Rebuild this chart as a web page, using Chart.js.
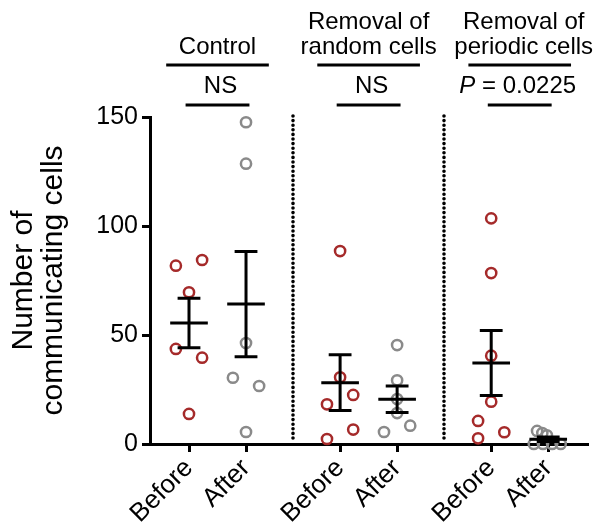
<!DOCTYPE html>
<html>
<head>
<meta charset="utf-8">
<script src="https://cdn.jsdelivr.net/npm/chart.js@4.4.0/dist/chart.umd.min.js"></script>
<style>
  html, body { margin: 0; padding: 0; background: #fff; }
  #wrap { width: 603px; height: 526px; }
</style>
</head>
<body>
<div id="wrap"><canvas id="cellChart" width="603" height="526"></canvas></div>
<script>
// Communicating cells before / after removal, three conditions
const groupNames = [["Control"], ["Removal of", "random cells"], ["Removal of", "periodic cells"]];
const stageLabels = ["Before", "After", "Before", "After", "Before", "After"];
const statLabels = ["NS", "NS", "P = 0.0225"];
const yTicks = [0, 50, 100, 150];

const controlBefore = [81.8, 84.4, 69.6, 43.6, 39.6, 13.8];
const controlAfter = [147.6, 128.6, 46.3, 30.4, 26.6, 5.5];
const randomBefore = [88.5, 30.6, 22.5, 18.2, 6.6, 2.3];
const randomAfter = [45.4, 29.2, 20.6, 14.2, 8.4, 5.5];
const periodicBefore = [103.5, 78.4, 40.5, 19.4, 10.6, 5.4, 2.6];
const periodicAfter = [6, 5, 4, 0, 0, 0, 0];

// sideways slot of every circle in its swarm (-1 left, 0 middle, 1 right)
const controlBeforeSlots = [-1, 1, 0, -1, 1, 0];
const controlAfterSlots = [0, 0, 0, -1, 1, 0];
const randomBeforeSlots = [0, 0, 1, -1, 1, -1];
const randomAfterSlots = [0, 0, 0, 0, 1, -1];
const periodicBeforeSlots = [0, 0, 0, 0, -1, 1, -1];
const periodicAfterSlots = [-0.85, -0.45, -0.1, -1.1, -0.4, 0.3, 0.95];

const series = [controlBefore, controlAfter, randomBefore, randomAfter, periodicBefore, periodicAfter];
const slots = [controlBeforeSlots, controlAfterSlots, randomBeforeSlots, randomAfterSlots, periodicBeforeSlots, periodicAfterSlots];

// x layout (axis units)
const stagePos = [1, 2, 3.65, 4.65, 6.3, 7.3];
const dividers = [2.82, 5.47];
const jitter = 0.23;

const RED = "#a52a2a";
const GREY = "#8a8a8a";
const FONT = "'Liberation Sans', Arial, Helvetica, sans-serif";

function mean(arr) {
  return arr.reduce((a, b) => a + b, 0) / arr.length;
}
function sem(arr) {
  const m = mean(arr);
  const ss = arr.reduce((a, b) => a + (b - m) * (b - m), 0);
  return Math.sqrt(ss / (arr.length - 1)) / Math.sqrt(arr.length);
}

const datasets = series.map((vals, i) => ({
  data: vals.map((v, j) => ({ x: stagePos[i] + slots[i][j] * jitter, y: v })),
  pointRadius: 5.1,
  pointBorderWidth: 2.5,
  pointBackgroundColor: "rgba(0,0,0,0)",
  pointBorderColor: i % 2 === 0 ? RED : GREY,
  showLine: false,
  clip: false
}));

const annotate = {
  id: "annotate",
  beforeDatasetsDraw(chart) {
    const { ctx, chartArea, scales: { x } } = chart;
    // dotted separators between conditions
    ctx.save();
    ctx.strokeStyle = "#000";
    ctx.lineWidth = 3.6;
    ctx.lineCap = "round";
    ctx.setLineDash([0, 4.6]);
    dividers.forEach(v => {
      const px = Math.round(x.getPixelForValue(v));
      ctx.beginPath();
      ctx.moveTo(px, chartArea.top - 1);
      ctx.lineTo(px, chartArea.bottom - 2);
      ctx.stroke();
    });
    ctx.restore();
  },
  afterDatasetsDraw(chart) {
    const { ctx, scales: { x, y } } = chart;
    // mean +/- SEM
    ctx.save();
    ctx.strokeStyle = "#000";
    ctx.lineWidth = 3;
    series.forEach((vals, i) => {
      const m = mean(vals);
      const e = sem(vals);
      const cx = x.getPixelForValue(stagePos[i]);
      const ym = y.getPixelForValue(m);
      const yt = y.getPixelForValue(m + e);
      const yb = y.getPixelForValue(m - e);
      const half = x.getPixelForValue(stagePos[i] + 0.33) - cx;
      const cap = x.getPixelForValue(stagePos[i] + 0.2) - cx;
      ctx.beginPath();
      ctx.moveTo(cx, yt); ctx.lineTo(cx, yb);
      ctx.moveTo(cx - cap, yt); ctx.lineTo(cx + cap, yt);
      ctx.moveTo(cx - cap, yb); ctx.lineTo(cx + cap, yb);
      ctx.moveTo(cx - half, ym); ctx.lineTo(cx + half, ym);
      ctx.stroke();
    });
    ctx.restore();
  },
  afterDraw(chart) {
    const { ctx, scales: { x } } = chart;
    ctx.save();
    ctx.fillStyle = "#000";
    ctx.strokeStyle = "#000";
    ctx.lineWidth = 3;
    ctx.textAlign = "center";
    ctx.textBaseline = "alphabetic";
    groupNames.forEach((lines, g) => {
      const p0 = stagePos[g * 2], p1 = stagePos[g * 2 + 1];
      const cx = x.getPixelForValue((p0 + p1) / 2);
      const wide = x.getPixelForValue((p0 + p1) / 2 + 0.9) - cx;
      const narrow = x.getPixelForValue((p0 + p1) / 2 + 0.56) - cx;
      ctx.font = "24px " + FONT;
      lines.forEach((t, k) => {
        ctx.fillText(t, cx + (g === 2 ? 4 : 0), 54 - 25 * (lines.length - 1 - k));
      });
      ctx.beginPath();
      ctx.moveTo(cx - wide, 65); ctx.lineTo(cx + wide, 65);
      ctx.moveTo(cx - narrow, 105); ctx.lineTo(cx + narrow, 105);
      ctx.stroke();

      const stat = statLabels[g];
      if (stat.startsWith("P")) {
        // italic P, upright remainder
        const rest = stat.slice(1);
        ctx.font = "italic 24px " + FONT;
        const wP = ctx.measureText("P").width;
        ctx.font = "24px " + FONT;
        const wR = ctx.measureText(rest).width;
        const start = cx - 2 - (wP + wR) / 2;
        ctx.textAlign = "left";
        ctx.font = "italic 24px " + FONT;
        ctx.fillText("P", start, 93);
        ctx.font = "24px " + FONT;
        ctx.fillText(rest, start + wP, 93);
        ctx.textAlign = "center";
      } else {
        ctx.fillText(stat, cx + 3, 93);
      }
    });
    ctx.restore();
  }
};

new Chart(document.getElementById("cellChart"), {
  type: "scatter",
  data: { datasets: datasets },
  options: {
    responsive: false,
    animation: false,
    devicePixelRatio: 1,
    layout: { padding: { top: 117, right: 16, bottom: 0, left: 0 } },
    plugins: {
      legend: { display: false },
      tooltip: { enabled: false }
    },
    scales: {
      x: {
        type: "linear",
        min: 0.316,
        max: 7.98,
        afterBuildTicks: scale => {
          scale.ticks = stagePos.map(v => ({ value: v }));
        },
        afterFit: scale => { scale.height = 82; },
        border: { color: "#000", width: 3 },
        grid: { drawOnChartArea: false, color: "#000", lineWidth: 3, tickLength: 8 },
        ticks: {
          color: "#000",
          font: { family: FONT, size: 26 },
          minRotation: 45,
          maxRotation: 45,
          padding: 1,
          callback: (v, i) => stageLabels[i]
        }
      },
      y: {
        min: 0,
        max: 150,
        afterBuildTicks: scale => {
          scale.ticks = yTicks.map(v => ({ value: v }));
        },
        afterFit: scale => { scale.width = 150; },
        border: { color: "#000", width: 3 },
        grid: { drawOnChartArea: false, color: "#000", lineWidth: 3, tickLength: 8 },
        ticks: {
          color: "#000",
          font: { family: FONT, size: 25 },
          padding: 4
        },
        title: {
          display: true,
          text: ["Number of", "communicating cells"],
          color: "#000",
          font: { family: FONT, size: 30, lineHeight: 1.0 },
          padding: { top: 9, bottom: 0 }
        }
      }
    }
  },
  plugins: [annotate]
});
</script>
</body>
</html>
